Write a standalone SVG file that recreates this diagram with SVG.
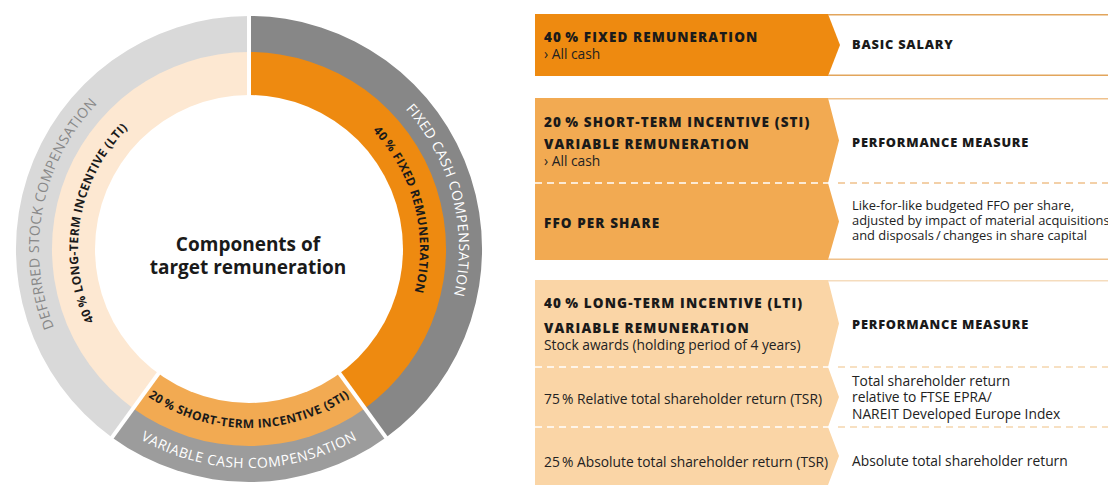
<svg xmlns="http://www.w3.org/2000/svg" width="1108" height="485" viewBox="0 0 1108 485">
  <defs>
    <style>
      .hd { font-family: "Open Sans", "Noto Sans", "Liberation Sans", sans-serif; font-weight: 800; font-size: 13.5px; fill: #1a1a1a; letter-spacing: 1.1px; }
      .hd-r { font-family: "Open Sans", "Noto Sans", "Liberation Sans", sans-serif; font-weight: 800; font-size: 12.8px; fill: #1a1a1a; letter-spacing: 0.8px; }
      .tx { font-family: "Open Sans", "Noto Sans", "Liberation Sans", sans-serif; font-weight: 400; font-size: 13.8px; fill: #222; }
      .sm { font-family: "Open Sans", "Noto Sans", "Liberation Sans", sans-serif; font-weight: 400; font-size: 12.9px; fill: #222; }
      .ring-out { font-family: "Open Sans", "Noto Sans", "Liberation Sans", sans-serif; font-weight: 400; font-size: 14px; letter-spacing: 0.5px; }
      .ring-in { font-family: "Open Sans", "Noto Sans", "Liberation Sans", sans-serif; font-weight: 700; font-size: 12px; fill: #1a1a1a; letter-spacing: 0.4px; }
      .title { font-family: "Open Sans", "Noto Sans", "Liberation Sans", sans-serif; font-weight: 700; font-size: 19px; fill: #1a1a1a; }
      .gap { stroke: #fff; stroke-width: 4; }
      .dash-w { stroke: #fff; stroke-width: 1.5; stroke-dasharray: 7 5; fill: none; }
    </style>
    <!-- text baselines around the ring, centre (249,249) -->
    <path id="arcFixedCash" d="M269.1,40 A210,210 0 0 1 367.9,422.1"/>
    <path id="arcFixedRem" d="M265.4,78.8 A171,171 0 0 1 345.9,389.9"/>
    <path id="arcDeferred" d="M140.8,429 A210,210 0 0 1 216.1,41.6"/>
    <path id="arcLti" d="M163.5,397.1 A171,171 0 0 1 219.3,80.6"/>
    <path id="arcSti" d="M80.8,310.2 A179,179 0 0 0 417.2,310.2"/>
    <path id="arcVarCash" d="M43.2,323.9 A219,219 0 0 0 454.8,323.9"/>
  </defs>

  <rect width="1108" height="485" fill="#fff"/>

  <!-- donut chart -->
  <g id="donut">
    <g id="ring-outer">
      <path d="M249,249 L249,16 A233,233 0 0 1 386,437.5 Z" fill="#878787"/>
      <path d="M249,249 L386,437.5 A233,233 0 0 1 112,437.5 Z" fill="#9c9c9c"/>
      <path d="M249,249 L112,437.5 A233,233 0 0 1 249,16 Z" fill="#d9d9d9"/>
    </g>
    <g id="ring-inner">
      <path d="M249,249 L249,52 A197,197 0 0 1 364.8,408.4 Z" fill="#ee8a10"/>
      <path d="M249,249 L364.8,408.4 A197,197 0 0 1 133.2,408.4 Z" fill="#f2aa52"/>
      <path d="M249,249 L133.2,408.4 A197,197 0 0 1 249,52 Z" fill="#fde8d2"/>
    </g>
    <circle cx="249" cy="249" r="154" fill="#fff"/>
    <g id="ring-gaps">
      <line class="gap" x1="337" y1="370" x2="390.1" y2="443.2"/>
      <line class="gap" x1="161" y1="370" x2="107.9" y2="443.2"/>
      <line class="gap" x1="249" y1="100" x2="249" y2="9" stroke-width="2.5"/>
    </g>
    <g id="ring-labels">
      <text class="ring-out" fill="#fff"><textPath href="#arcFixedCash" startOffset="50%" text-anchor="middle">FIXED CASH COMPENSATION</textPath></text>
      <text class="ring-in"><textPath href="#arcFixedRem" startOffset="50%" text-anchor="middle">40&#8201;% FIXED REMUNERATION</textPath></text>
      <text class="ring-out" fill="#888"><textPath href="#arcDeferred" startOffset="50%" text-anchor="middle">DEFERRED STOCK COMPENSATION</textPath></text>
      <text class="ring-in"><textPath href="#arcLti" startOffset="50%" text-anchor="middle">40&#8201;% LONG-TERM INCENTIVE (LTI)</textPath></text>
      <text class="ring-in"><textPath href="#arcSti" startOffset="50%" text-anchor="middle">20&#8201;% SHORT-TERM INCENTIVE (STI)</textPath></text>
      <text class="ring-out" fill="#fff"><textPath href="#arcVarCash" startOffset="50%" text-anchor="middle">VARIABLE CASH COMPENSATION</textPath></text>
    </g>
    <text class="title" x="248" y="251" text-anchor="middle">Components of</text>
    <text class="title" x="248" y="274" text-anchor="middle">target remuneration</text>
  </g>

  <!-- fixed remuneration -->
  <g id="panel-fixed">
    <polygon points="535,14 828,14 840,45 828,76 535,76" fill="#ee8a10"/>
    <line x1="828" y1="14.75" x2="1108" y2="14.75" stroke="#e2a55c" stroke-width="1.5"/>
    <line x1="828" y1="75.25" x2="1108" y2="75.25" stroke="#e2a55c" stroke-width="1.5"/>
    <text class="hd" x="544" y="42">40&#8201;% FIXED REMUNERATION</text>
    <text class="tx" x="544" y="59">› All cash</text>
    <text class="hd-r" x="852" y="49">BASIC SALARY</text>
  </g>

  <!-- short-term incentive -->
  <g id="panel-sti">
    <polygon points="535,98 828,98 839,140.5 828,183 839,221.5 828,260 535,260" fill="#f2aa52"/>
    <line class="dash-w" x1="535" y1="183" x2="830" y2="183"/>
    <line x1="828" y1="98.75" x2="1108" y2="98.75" stroke="#efc18c" stroke-width="1.5"/>
    <line x1="838" y1="183" x2="1108" y2="183" stroke="#efc18c" stroke-width="1.5" stroke-dasharray="7 5"/>
    <line x1="828" y1="259.25" x2="1108" y2="259.25" stroke="#efc18c" stroke-width="1.5"/>
    <text class="hd" x="544" y="127">20&#8201;% SHORT-TERM INCENTIVE (STI)</text>
    <text class="hd" x="544" y="149">VARIABLE REMUNERATION</text>
    <text class="tx" x="544" y="166">› All cash</text>
    <text class="hd" x="544" y="228">FFO PER SHARE</text>
    <text class="hd-r" x="852" y="147">PERFORMANCE MEASURE</text>
    <text class="sm" x="852" y="210">Like-for-like budgeted FFO per share,</text>
    <text class="sm" x="852" y="225">adjusted by impact of material acquisitions</text>
    <text class="sm" x="852" y="240">and disposals&#8201;/&#8201;changes in share capital</text>
  </g>

  <!-- long-term incentive -->
  <g id="panel-lti">
    <polygon points="535,280 828,280 839,323.5 828,367 839,397 828,427 839,456 828,485 535,485" fill="#fad5a6"/>
    <line class="dash-w" x1="535" y1="367" x2="830" y2="367"/>
    <line class="dash-w" x1="535" y1="427" x2="830" y2="427"/>
    <line x1="828" y1="280.75" x2="1108" y2="280.75" stroke="#f5dcbd" stroke-width="1.5"/>
    <line x1="838" y1="367" x2="1108" y2="367" stroke="#f5d6ae" stroke-width="1.5" stroke-dasharray="7 5"/>
    <line x1="838" y1="427" x2="1108" y2="427" stroke="#f5d6ae" stroke-width="1.5" stroke-dasharray="7 5"/>
    <text class="hd" x="544" y="308">40&#8201;% LONG-TERM INCENTIVE (LTI)</text>
    <text class="hd" x="544" y="333">VARIABLE REMUNERATION</text>
    <text class="tx" x="544" y="350">Stock awards (holding period of 4 years)</text>
    <text class="tx" x="544" y="404">75&#8201;% Relative total shareholder return (TSR)</text>
    <text class="tx" x="544" y="467">25&#8201;% Absolute total shareholder return (TSR)</text>
    <text class="hd-r" x="852" y="329">PERFORMANCE MEASURE</text>
    <text class="tx" x="852" y="386">Total shareholder return</text>
    <text class="tx" x="852" y="402">relative to FTSE EPRA/</text>
    <text class="tx" x="852" y="419">NAREIT Developed Europe Index</text>
    <text class="tx" x="852" y="466">Absolute total shareholder return</text>
  </g>
</svg>
